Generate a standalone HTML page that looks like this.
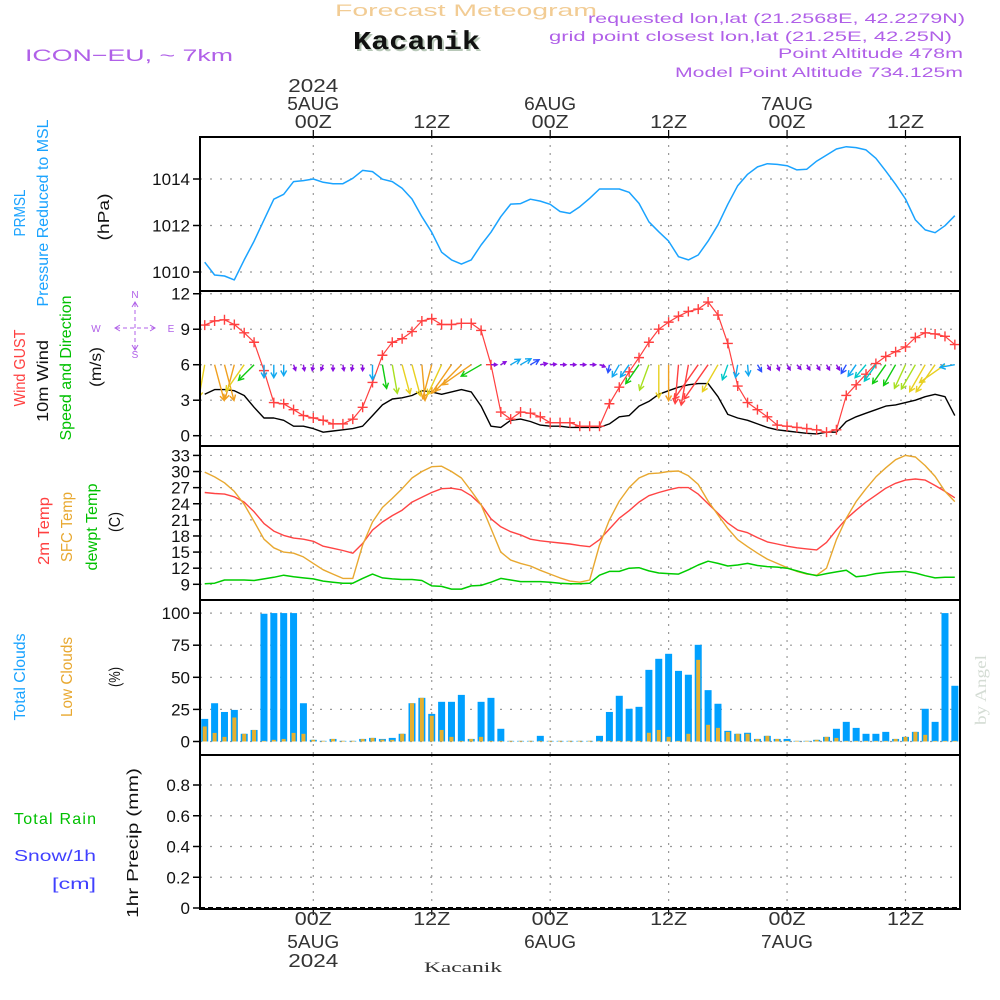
<!DOCTYPE html>
<html><head><meta charset="utf-8"><title>Forecast Meteogram Kacanik</title>
<style>
html,body{margin:0;padding:0;background:#fff;}
svg{display:block;font-family:"Liberation Sans",sans-serif;}
</style></head>
<body>
<svg id="chart" width="1000" height="1000" viewBox="0 0 1000 1000" xmlns="http://www.w3.org/2000/svg">
<defs><clipPath id="plotclip"><rect x="201" y="136" width="759" height="773"/></clipPath></defs>
<rect x="0" y="0" width="1000" height="1000" fill="#fff"/>
<!-- header -->
<text x="335" y="16" font-size="17" fill="#f2cc94" textLength="262" lengthAdjust="spacingAndGlyphs">Forecast Meteogram</text>
<text x="355" y="51" font-family="Liberation Mono, monospace" font-weight="bold" font-size="26" fill="#b8c8b8" textLength="127" lengthAdjust="spacingAndGlyphs">Kacanik</text>
<text x="353" y="49" font-family="Liberation Mono, monospace" font-weight="bold" font-size="26" fill="#111" textLength="127" lengthAdjust="spacingAndGlyphs">Kacanik</text>
<text x="25" y="61" font-size="17" fill="#b060e8" textLength="208" lengthAdjust="spacingAndGlyphs">ICON−EU,  ~  7km</text>
<text x="588" y="23" font-size="14" fill="#b060e8" textLength="377" lengthAdjust="spacingAndGlyphs">requested lon,lat (21.2568E, 42.2279N)</text>
<text x="549" y="41" font-size="14" fill="#b060e8" textLength="403" lengthAdjust="spacingAndGlyphs">grid point closest lon,lat (21.25E, 42.25N)</text>
<text x="778" y="58" font-size="14" fill="#b060e8" textLength="185" lengthAdjust="spacingAndGlyphs">Point Altitude 478m</text>
<text x="675" y="77" font-size="14" fill="#b060e8" textLength="288" lengthAdjust="spacingAndGlyphs">Model Point Altitude 734.125m</text>
<!-- left labels -->
<g font-size="16">
<text transform="translate(25,213) rotate(-90)" text-anchor="middle" fill="#1aa3ff" textLength="47" lengthAdjust="spacingAndGlyphs">PRMSL</text>
<text transform="translate(48,213) rotate(-90)" text-anchor="middle" fill="#1aa3ff" textLength="187" lengthAdjust="spacingAndGlyphs">Pressure Reduced to MSL</text>
<text transform="translate(109,217) rotate(-90)" text-anchor="middle" fill="#111" textLength="47" lengthAdjust="spacingAndGlyphs">(hPa)</text>
</g>
<g font-size="16">
<text transform="translate(25,368) rotate(-90)" text-anchor="middle" fill="#ff4040" textLength="77" lengthAdjust="spacingAndGlyphs">Wind GUST</text>
<text transform="translate(48,381) rotate(-90)" text-anchor="middle" fill="#111" textLength="82" lengthAdjust="spacingAndGlyphs">10m Wind</text>
<text transform="translate(71,368) rotate(-90)" text-anchor="middle" fill="#00c000" textLength="145" lengthAdjust="spacingAndGlyphs">Speed and Direction</text>
<text transform="translate(101,367) rotate(-90)" text-anchor="middle" fill="#111" textLength="40" lengthAdjust="spacingAndGlyphs">(m/s)</text>
</g>
<g fill="#b060e8" stroke="none" font-size="10">
<text x="96" y="332" text-anchor="middle">W</text><text x="171" y="332" text-anchor="middle">E</text>
<text x="135" y="298" text-anchor="middle">N</text><text x="135" y="358" text-anchor="middle">S</text>
<g stroke="#b060e8" stroke-width="1" fill="none">
<line x1="116" y1="328" x2="154" y2="328" stroke-dasharray="4,3"/><line x1="135" y1="303" x2="135" y2="350" stroke-dasharray="4,3"/>
<polyline points="120,325 115,328 120,331"/><polyline points="150,325 155,328 150,331"/>
<polyline points="132,307 135,302 138,307"/><polyline points="132,345 135,350 138,345"/>
</g></g>
<g font-size="16">
<text transform="translate(49,531) rotate(-90)" text-anchor="middle" fill="#ff4040" textLength="68" lengthAdjust="spacingAndGlyphs">2m Temp</text>
<text transform="translate(72,527) rotate(-90)" text-anchor="middle" fill="#e8a830" textLength="70" lengthAdjust="spacingAndGlyphs">SFC Temp</text>
<text transform="translate(97,527) rotate(-90)" text-anchor="middle" fill="#00c000" textLength="87" lengthAdjust="spacingAndGlyphs">dewpt Temp</text>
<text transform="translate(120,522) rotate(-90)" text-anchor="middle" fill="#111" textLength="20" lengthAdjust="spacingAndGlyphs">(C)</text>
</g>
<g font-size="16">
<text transform="translate(25,677) rotate(-90)" text-anchor="middle" fill="#1aa3ff" textLength="87" lengthAdjust="spacingAndGlyphs">Total Clouds</text>
<text transform="translate(72,677) rotate(-90)" text-anchor="middle" fill="#e8a830" textLength="80" lengthAdjust="spacingAndGlyphs">Low Clouds</text>
<text transform="translate(120,677) rotate(-90)" text-anchor="middle" fill="#111" textLength="20" lengthAdjust="spacingAndGlyphs">(%)</text>
</g>
<g font-size="16">
<text x="14" y="824" fill="#00c000" textLength="82" lengthAdjust="spacing">Total  Rain</text>
<text x="14" y="861" fill="#4040ff" textLength="82" lengthAdjust="spacingAndGlyphs">Snow/1h</text>
<text x="52" y="889" fill="#4040ff" textLength="44" lengthAdjust="spacingAndGlyphs">[cm]</text>
<text transform="translate(138,843) rotate(-90)" text-anchor="middle" fill="#111" textLength="150" lengthAdjust="spacingAndGlyphs">1hr Precip (mm)</text>
</g>
<text transform="translate(986,690) rotate(-90)" text-anchor="middle" font-family="Liberation Serif, serif" font-size="16" fill="#d4dcd4" textLength="70" lengthAdjust="spacingAndGlyphs">by Angel</text>
<text x="424" y="972" font-family="Liberation Serif, serif" font-size="15" fill="#333" textLength="78" lengthAdjust="spacingAndGlyphs">Kacanik</text>
<g id="grid"></g>
<g id="marks" clip-path="url(#plotclip)"></g>
<g id="frames"></g>
<g id="axes"></g>
</svg>
<script>
// ---- data (hours relative to 00Z 5AUG 2024) ----
const hourStart = -11;
const pressure = [1010.42,1009.87,1009.83,1009.66,1010.52,1011.33,1012.24,1013.13,1013.34,1013.89,1013.93,1014.0,1013.86,1013.8,1013.8,1014.03,1014.37,1014.32,1013.99,1013.89,1013.6,1013.14,1012.38,1011.71,1010.85,1010.52,1010.34,1010.52,1011.16,1011.71,1012.38,1012.92,1012.94,1013.13,1013.05,1012.91,1012.6,1012.52,1012.81,1013.17,1013.57,1013.57,1013.57,1013.43,1012.95,1012.16,1011.73,1011.33,1010.66,1010.52,1010.73,1011.33,1012.03,1012.91,1013.71,1014.2,1014.52,1014.66,1014.63,1014.57,1014.39,1014.42,1014.77,1015.03,1015.29,1015.39,1015.35,1015.25,1014.89,1014.34,1013.77,1013.14,1012.24,1011.81,1011.69,1011.99,1012.42];
const gust = [9.35,9.7,9.8,9.4,8.7,7.9,5.5,2.8,2.7,2.2,1.7,1.5,1.3,1.0,1.0,1.4,2.4,4.5,6.8,7.9,8.2,8.8,9.7,9.9,9.4,9.4,9.5,9.5,8.9,6.0,2.0,1.4,2.0,1.9,1.6,1.1,1.1,1.1,0.8,0.8,0.8,2.7,4.1,5.4,6.6,7.9,9.0,9.6,10.1,10.5,10.7,11.3,10.2,7.8,4.2,2.8,2.2,1.6,0.9,0.8,0.7,0.6,0.5,0.3,0.5,3.4,4.3,5.2,6.1,6.7,7.1,7.5,8.3,8.7,8.6,8.4,7.7];
const wind = [3.5,3.9,3.9,3.8,3.4,2.4,1.5,1.5,1.3,0.8,0.8,0.6,0.3,0.4,0.5,0.6,0.8,1.7,2.6,3.1,3.2,3.4,3.8,3.7,3.5,3.7,3.9,3.7,2.5,0.8,0.7,1.3,1.4,1.2,0.9,0.8,0.8,0.7,0.7,0.7,0.7,1.0,1.6,1.7,2.5,2.9,3.5,3.8,4.1,4.3,4.4,4.4,3.3,1.8,1.5,1.3,1.0,0.7,0.5,0.4,0.3,0.2,0.15,0.3,0.3,1.2,1.6,1.9,2.2,2.5,2.6,2.8,3.0,3.3,3.5,3.3,1.7];
const windDir = [190,165,165,195,215,225,180,180,180,160,170,190,200,180,170,190,180,180,170,170,165,165,175,195,205,215,225,235,240,90,60,60,60,60,80,85,90,90,90,90,110,190,210,215,215,200,180,180,185,190,215,215,210,200,190,175,150,150,160,150,140,150,150,150,150,210,215,220,215,215,210,205,210,210,215,235,260];
const temp2m = [26.1,25.9,25.8,25.3,24.3,22.5,20.3,18.9,18.1,17.6,17.4,17.0,16.1,15.7,15.3,14.8,16.6,19.1,20.6,21.8,22.8,24.3,25.2,26.1,26.8,26.9,26.6,25.5,23.8,21.2,19.7,18.8,18.2,17.4,17.1,16.9,16.7,16.5,16.2,16.0,17.3,19.3,21.3,22.7,24.3,25.5,26.1,26.6,27.0,27.0,25.8,24.0,22.2,20.4,19.1,18.6,17.7,16.9,16.5,16.1,15.8,15.6,15.4,16.8,19.1,21.2,22.8,24.3,25.6,26.9,27.8,28.4,28.6,28.4,27.4,26.3,25.1];
const tempSfc = [29.9,29.0,27.9,26.3,23.9,20.7,17.4,15.8,15.0,14.8,14.1,12.9,11.7,10.9,10.1,10.1,16.3,20.6,23.3,25.0,26.8,28.8,30.0,30.9,31.0,30.0,28.8,26.4,23.8,19.4,15.0,13.5,12.9,12.4,11.6,10.9,10.2,9.6,9.4,9.8,16.3,21.0,24.5,27.0,28.8,29.6,29.7,30.0,30.1,29.2,27.6,24.5,21.9,19.4,17.3,16.0,14.8,13.7,12.9,12.1,11.4,10.9,10.7,12.0,17.3,21.3,24.4,26.8,29.0,30.7,32.2,33.0,32.7,31.1,29.1,26.3,24.4];
const dewpt = [9.1,9.2,9.8,9.8,9.8,9.7,10.0,10.3,10.7,10.4,10.2,10.0,9.6,9.4,9.2,9.2,10.1,10.9,10.2,10.0,9.9,9.9,9.7,8.7,8.6,8.1,8.1,8.7,8.8,9.4,10.1,9.8,9.5,9.5,9.5,9.4,9.2,9.1,9.1,9.2,10.7,11.4,11.4,12.0,12.1,11.5,11.1,11.0,10.9,11.7,12.6,13.3,12.9,12.4,12.6,12.9,12.5,12.3,12.2,12.0,11.5,11.0,10.6,11.0,11.3,11.6,10.4,10.6,11.0,11.2,11.3,11.4,11.1,10.6,10.2,10.3,10.3];
const totalClouds = [17.6,29.8,23,24.6,6,9,99.5,100,100,100,29.8,1.3,0.5,2,0.5,0.5,2,2.8,2,2.8,6,29.8,34,21.5,30.9,30.9,36.3,2,30.9,34,9.9,0.5,0.5,0.5,4.4,0.5,0.5,0.5,0.5,0.5,4.4,23,35.6,25.5,27,55.8,64.4,68.3,55,52,75.3,40,29.4,8.3,6,6.8,2,4.4,2,2,0.5,0.5,1.3,3.6,9.9,15.3,10.6,6,6,7.5,2,3.6,7.5,25.5,15.3,100,43.4];
const lowClouds = [11.7,6.7,3.6,18.7,6,9,0.5,1.3,2,6.7,6,1.3,0.5,2,0.5,0.5,2,2.8,1.5,1.3,6,29.8,34,20,9,3.6,0.5,2,3.6,0.5,0.5,0.5,0.5,0.5,0.5,0.5,0.5,0.5,0.5,0.5,0.5,0.5,0.5,0.5,0.5,6.8,9,3.6,0.5,6,63.6,13,10.6,7.5,6,6,2,4.4,2,0.5,0.5,0.5,1.3,3.6,2.8,0.5,0.5,0.5,0.5,0.5,2,3.6,7.5,5.2,0.5,0.5,0.5];
const precip = totalClouds.map(() => 0);
const pressureTicks = [1010,1012,1014];
const windTicks = [0,3,6,9,12];
const tempTicks = [9,12,15,18,21,24,27,30,33];
const cloudTicks = [0,25,50,75,100];
const precipTicks = [0,0.2,0.4,0.6,0.8];
const timeTicks = [0,12,24,36,48,60];
const timeLabels = ['00Z','12Z','00Z','12Z','00Z','12Z'];
const dateLabels = ['5AUG','','6AUG','','7AUG',''];

// ---- scales ----
const L = 200, R = 960;
const x = h => 313.3 + 9.87 * h;
const yP = p => 179 + (1014 - p) * 23.25;
const yW = v => 435.7 - v * 11.83;
const yT = t => 584.3 - (t - 9) * 5.37;
const yC = c => 741.5 - c * 1.284;
const yR = r => 908 - r * 153.75;
const panels = [[137,291],[291,446],[446,600],[600,755],[755,909]];
const NS = 'http://www.w3.org/2000/svg';
function mk(tag, attrs, parent) {
  const e = document.createElementNS(NS, tag);
  for (const k in attrs) e.setAttribute(k, attrs[k]);
  parent.appendChild(e);
  return e;
}
const grid = document.getElementById('grid');
const marks = document.getElementById('marks');
const frames = document.getElementById('frames');
const axes = document.getElementById('axes');

// grid lines
panels.forEach((p, pi) => {
  timeTicks.forEach(h => {
    const g = mk('line', {x1:x(h), x2:x(h), y1:p[0], y2:p[1], stroke:'#999', 'stroke-width':1.2, 'stroke-dasharray':'2,6'}, grid);
    
    
  });
});
function hgrid(ticks, yf, fmt, name) {
  ticks.forEach(t => {
    const g = mk('line', {x1:L, x2:R, y1:yf(t), y2:yf(t), stroke:'#999', 'stroke-width':1.2, 'stroke-dasharray':'2,8'}, grid);
    
    
    const tk = mk('line', {x1:L-7, x2:L, y1:yf(t), y2:yf(t), stroke:'#000', 'stroke-width':1.5}, axes);
    
    
    const lb = mk('text', {x:L-10, y:yf(t)+6, 'text-anchor':'end', 'font-size':17, fill:'#111'}, axes);
    lb.textContent = fmt(t);
    
    
  });
}
hgrid(pressureTicks, yP, t => String(t), 'pressure');
hgrid(windTicks, yW, t => String(t), 'wind');
hgrid(tempTicks, yT, t => String(t), 'temp');
hgrid(cloudTicks, yC, t => String(t), 'cloud');
hgrid(precipTicks, yR, t => t === 0 ? '0' : t.toFixed(1), 'precip');

// ---- marks ----
const hs = pressure.map((_, i) => hourStart + i);
function line(arr, yf, color, name, w) {
  const pts = arr.map((v, i) => x(hs[i]).toFixed(1) + ',' + yf(v).toFixed(1)).join(' ');
  const pl = mk('polyline', {points:pts, fill:'none', stroke:color, 'stroke-width':w || 1.4, 'stroke-linejoin':'round'}, marks);
  
  
}
// clouds
totalClouds.forEach((c, i) => {
  const b = mk('rect', {x:x(hs[i])-3.5, y:yC(c), width:7, height:yC(0)-yC(c), fill:'#00a0ff'}, marks);
  
  
});
lowClouds.forEach((c, i) => {
  const b = mk('rect', {x:x(hs[i])-2, y:yC(c), width:4, height:yC(0)-yC(c), fill:'#e5b030'}, marks);
  
  
});
// precip (all zero)
const pz = mk('line', {x1:L, x2:R, y1:yR(0), y2:yR(0), stroke:'#000', 'stroke-width':2, 'stroke-dasharray':'5,3'}, marks);


precip.forEach((r, i) => {
  if (r > 0) {
    const b = mk('rect', {x:x(hs[i])-3.5, y:yR(r), width:7, height:yR(0)-yR(r), fill:'#00c000'}, marks);
    
    
  }
});
line(pressure, yP, '#1aa3ff', 'pressure-line', 1.5);
line(temp2m, yT, '#ff4444', 'temp-2m-line', 1.4);
line(tempSfc, yT, '#e8a830', 'sfc-temp-line', 1.4);
line(dewpt, yT, '#00cc00', 'dewpt-line', 1.5);
line(wind, yW, '#000', 'wind-speed-line', 1.4);
line(gust, yW, '#ff4040', 'gust-line', 1.2);
gust.forEach((g, i) => {
  const cx = x(hs[i]), cy = yW(g);
  const m = mk('path', {d:`M${cx-5},${cy}H${cx+5}M${cx},${cy-5}V${cy+5}`, stroke:'#ff4040', 'stroke-width':1.4}, marks);
  
  
});
function windColor(s) {
  if (s < 1) return '#8a10e0';
  if (s < 1.3) return '#2a50ff';
  if (s < 1.8) return '#10a8f0';
  if (s < 2.3) return '#00c8c8';
  if (s < 2.8) return '#10cc10';
  if (s < 3.2) return '#a8e020';
  if (s < 3.6) return '#e8d020';
  if (s < 4.0) return '#f0a020';
  return '#ff4040';
}
windDir.forEach((d, i) => {
  const s = wind[i];
  const len = Math.max(6, 10 * s - 2);
  const bx = x(hs[i]), by = yW(6);
  const a = d * Math.PI / 180;
  const tx = bx + len * Math.sin(a), ty = by - len * Math.cos(a);
  const c = windColor(s);
  const hl = Math.min(6, len * 0.6);
  const a1 = a + Math.PI - 0.5, a2 = a + Math.PI + 0.5;
  const p = `M${bx.toFixed(1)},${by.toFixed(1)}L${tx.toFixed(1)},${ty.toFixed(1)}` +
    `M${(tx + hl*Math.sin(a1)).toFixed(1)},${(ty - hl*Math.cos(a1)).toFixed(1)}L${tx.toFixed(1)},${ty.toFixed(1)}L${(tx + hl*Math.sin(a2)).toFixed(1)},${(ty - hl*Math.cos(a2)).toFixed(1)}`;
  const ar = mk('path', {d:p, stroke:c, 'stroke-width':1.4, fill:'none'}, marks);
  
  
});

// ---- frames ----
panels.forEach((p, pi) => {
  const f = mk('rect', {x:L, y:p[0], width:R-L, height:p[1]-p[0], fill:'none', stroke:'#000', 'stroke-width':2}, frames);
  
  
});
// time axis ticks and labels
timeTicks.forEach((h, i) => {
  const t1 = mk('line', {x1:x(h), x2:x(h), y1:130, y2:137, stroke:'#000', 'stroke-width':1.2}, axes);
  
  
  const t2 = mk('line', {x1:x(h), x2:x(h), y1:909, y2:915, stroke:'#000', 'stroke-width':1.2}, axes);
  
  
  const a = mk('text', {x:x(h), y:128, 'text-anchor':'middle', 'font-size':18, fill:'#333', textLength:37, lengthAdjust:'spacingAndGlyphs'}, axes);
  a.textContent = timeLabels[i];
  
  
  const b = mk('text', {x:x(h), y:925, 'text-anchor':'middle', 'font-size':18, fill:'#333', textLength:37, lengthAdjust:'spacingAndGlyphs'}, axes);
  b.textContent = timeLabels[i];
  
  
  if (dateLabels[i]) {
    const c = mk('text', {x:x(h), y:110, 'text-anchor':'middle', 'font-size':18, fill:'#333', textLength:52, lengthAdjust:'spacingAndGlyphs'}, axes);
    c.textContent = dateLabels[i];
    
    
    const d = mk('text', {x:x(h), y:948, 'text-anchor':'middle', 'font-size':18, fill:'#333', textLength:52, lengthAdjust:'spacingAndGlyphs'}, axes);
    d.textContent = dateLabels[i];
    
    
  }
});
const y1 = mk('text', {x:x(0), y:92, 'text-anchor':'middle', 'font-size':18, fill:'#333', textLength:50, lengthAdjust:'spacingAndGlyphs'}, axes);
y1.textContent = '2024';


const y2 = mk('text', {x:x(0), y:967, 'text-anchor':'middle', 'font-size':18, fill:'#333', textLength:50, lengthAdjust:'spacingAndGlyphs'}, axes);
y2.textContent = '2024';


</script>
</body></html>
